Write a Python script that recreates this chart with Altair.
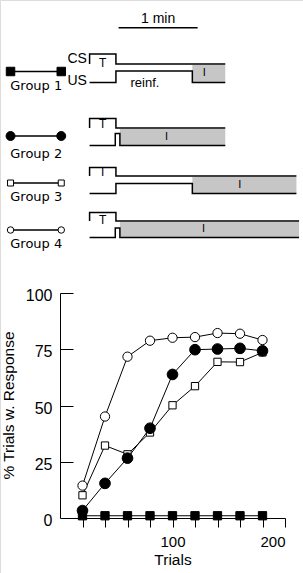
import altair as alt
import pandas as pd

# ---------------- learning-curve data ----------------
trials = [20, 40, 60, 80, 100, 120, 140, 160, 180]
group1 = [1, 1, 1, 1, 1, 1, 1, 1, 1]
group2 = [3.3, 15.4, 26.6, 39.9, 63.8, 74.8, 75.1, 75.4, 74.3]
group3 = [10.1, 32.2, 28.3, 38.0, 50.1, 58.6, 69.4, 69.3, 73.6]
group4 = [14.4, 45.1, 71.7, 78.8, 80.1, 80.4, 82.2, 81.9, 79.1]

group_names = ["Group 1", "Group 2", "Group 3", "Group 4"]
group_shapes = ["square", "circle", "square", "circle"]
group_fills = ["black", "black", "white", "white"]
group_sizes = [69, 114, 53, 86]          # plot markers
legend_sizes = [72, 80, 36, 42]          # legend markers

x_ticks = [20, 40, 60, 80, 100, 120, 140, 160, 180, 200]
y_ticks = [0, 25, 50, 75, 100]
y_inner_ticks = [25, 50, 75, 100]

# ---------------- procedure schematic (time in seconds) ----------------
cs_on, cs_off = 0, 20
spike_on, spike_off = 19.5, 23
trace_delay = [True, False, True, False]   # reinforcement delayed after CS
ext_start = [78, 23, 78, 23]               # start of the grey (I) period
row_end = [103, 103, 157, 159]
scale_bar = [22, 82]                       # 1 min
# vertical levels of each group row (diagram units, downward)
cs_high = [54, 118.5, 167.5, 212.5]
cs_low = [64, 128, 176, 221]
us_high = [71, 133.5, 183.5, 228]
us_low = [82.5, 145.5, 193.5, 237.5]
t_label_y = [62.5, 124, 172, 219.5]
i_label_t = [87, 58.5, 114, 86.5]
i_label_y = [73, 137, 184.5, 229]
legend_t = [-60, -21.5]
legend_y = [71.5, 136, 183, 230]
legend_label_t = -40.5
legend_label_y = [86, 153.5, 196.5, 243.5]

# ---------------- build tables ----------------
series = [group1, group2, group3, group4]
data_rows = []
for gi in [3, 2, 1, 0]:
    for t, v in zip(trials, series[gi]):
        data_rows.append(dict(group=group_names[gi], trial=t, value=v,
                              shape=group_shapes[gi], fill=group_fills[gi],
                              size=group_sizes[gi]))
df_data = pd.DataFrame(data_rows)

path_rows = []
rect_rows = []
for i in range(4):
    end = row_end[i]
    cs = [(cs_on, cs_low[i]), (cs_on, cs_high[i]), (cs_off, cs_high[i]),
          (cs_off, cs_low[i]), (end, cs_low[i])]
    if trace_delay[i]:
        us = [(cs_on, us_low[i]), (cs_off, us_low[i]), (cs_off, us_high[i]),
              (ext_start[i], us_high[i]), (ext_start[i], us_low[i]), (end, us_low[i])]
    else:
        us = [(cs_on, us_low[i]), (spike_on, us_low[i]), (spike_on, us_high[i]),
              (spike_off, us_high[i]), (spike_off, us_low[i]), (end, us_low[i])]
    for k, (t, y) in enumerate(cs):
        path_rows.append(dict(path=f"cs{i}", order=k, t=t, y=y))
    for k, (t, y) in enumerate(us):
        path_rows.append(dict(path=f"us{i}", order=k, t=t, y=y))
    rect_rows.append(dict(t=ext_start[i], t2=end, y=cs_low[i] + 1, y2=us_low[i]))
    for k, t in enumerate(legend_t):
        path_rows.append(dict(path=f"leg{i}", order=k, t=t, y=legend_y[i]))
df_path = pd.DataFrame(path_rows)
df_rect = pd.DataFrame(rect_rows)

df_legpts = pd.DataFrame([dict(t=t, y=legend_y[i], shape=group_shapes[i],
                               fill=group_fills[i], size=legend_sizes[i])
                          for i in range(4) for t in legend_t])
df_leglab = pd.DataFrame(dict(t=[legend_label_t] * 4, y=legend_label_y, label=group_names))
df_T = pd.DataFrame(dict(t=[(cs_on + cs_off) / 2] * 4, y=t_label_y, label=["T"] * 4))
df_I = pd.DataFrame(dict(t=i_label_t, y=i_label_y, label=["I"] * 4))
df_misc = pd.DataFrame(dict(t=[(scale_bar[0] + scale_bar[1]) / 2, -2, -2],
                            y=[18.8, 58.5, 80.5], label=["1 min", "CS", "US"],
                            align=["center", "right", "right"]))
df_reinf = pd.DataFrame(dict(t=[42], y=[83.3], label=["reinf."]))
df_bar = pd.DataFrame(dict(t=[scale_bar[0]], t2=[scale_bar[1]], y=[27.7]))

# ---------------- schematic layers ----------------
sx = alt.Scale(domain=[-68, 162])
sy = alt.Scale(domain=[0, 573], reverse=True)
X = alt.X("t:Q", scale=sx, axis=None)
Y = alt.Y("y:Q", scale=sy, axis=None)

rects = alt.Chart(df_rect).mark_rect(color="#c6c6c6").encode(
    x=X, x2="t2:Q", y=Y, y2="y2:Q")
paths = alt.Chart(df_path).mark_line(color="black", strokeWidth=1.5,
                                     strokeJoin="miter").encode(
    x=X, y=Y, detail="path:N", order="order:Q")
bar = alt.Chart(df_bar).mark_rule(color="black", strokeWidth=1.5).encode(
    x=X, x2="t2:Q", y=Y)
legpts = alt.Chart(df_legpts).mark_point(filled=True, stroke="black",
                                         strokeWidth=1, opacity=1).encode(
    x=X, y=Y,
    shape=alt.Shape("shape:N", scale=None),
    fill=alt.Fill("fill:N", scale=None),
    size=alt.Size("size:Q", scale=None))
leglab = alt.Chart(df_leglab).mark_text(font="DejaVu Sans", fontSize=13,
                                        baseline="middle", color="black").encode(
    x=X, y=Y, text="label:N")
tlab = alt.Chart(df_T).mark_text(font="Liberation Sans", fontSize=12,
                                 baseline="middle", color="black").encode(
    x=X, y=Y, text="label:N")
ilab = alt.Chart(df_I).mark_text(font="Liberation Sans", fontSize=11,
                                 baseline="middle", color="black").encode(
    x=X, y=Y, text="label:N")
misc_c = alt.Chart(df_misc[df_misc["align"] == "center"]).mark_text(
    font="Liberation Sans", fontSize=14, baseline="middle", align="center",
    color="black").encode(x=X, y=Y, text="label:N")
misc_r = alt.Chart(df_misc[df_misc["align"] == "right"]).mark_text(
    font="Liberation Sans", fontSize=14, baseline="middle", align="right",
    color="black").encode(x=X, y=Y, text="label:N")
reinf = alt.Chart(df_reinf).mark_text(font="Liberation Sans", fontSize=13,
                                      baseline="middle", color="black").encode(
    x=X, y=Y, text="label:N")

schematic = alt.layer(rects, paths, bar, legpts, leglab, tlab, ilab,
                      misc_c, misc_r, reinf)

# ---------------- data plot layers ----------------
dx = alt.Scale(domain=[0, 200], range=[60, 285])
dy = alt.Scale(domain=[0, 100], range=[518, 293])
x_axis = alt.Axis(orient="bottom", offset=-55, values=x_ticks, grid=False,
                  tickSize=9, tickColor="black", domainColor="black",
                  labelPadding=7, labelFont="Liberation Sans", labelFontSize=15,
                  labelColor="black",
                  labelExpr="(datum.value == 100 || datum.value == 200) ? datum.label : ''",
                  title="Trials", titleFont="Liberation Sans", titleFontSize=15.5,
                  titleFontWeight="normal", titleColor="black",
                  titleBaseline="alphabetic", titleY=46.5)
y_axis = alt.Axis(orient="left", offset=-60, values=y_ticks, grid=False,
                  ticks=False, tickSize=0, domainColor="black",
                  labelPadding=8, labelOffset=2.5, labelFont="Liberation Sans",
                  labelFontSize=16, labelColor="black",
                  title="% Trials w. Response", titleFont="Liberation Sans",
                  titleFontSize=15.5, titleFontWeight="normal", titleColor="black",
                  titleBaseline="alphabetic", titleX=-47, titleY=405)
y_inner = alt.Axis(orient="right", offset=-243, values=y_inner_ticks, grid=False,
                   ticks=True, tickSize=13, tickColor="black", labels=False,
                   domain=False, title=None)

DX = alt.X("trial:Q", scale=dx, axis=x_axis)
lines = alt.Chart(df_data).mark_line(color="black", strokeWidth=1).encode(
    x=DX, y=alt.Y("value:Q", scale=dy, axis=y_axis),
    detail="group:N", order="trial:Q")
points = alt.Chart(df_data).mark_point(filled=True, stroke="black",
                                       strokeWidth=1, opacity=1).encode(
    x=DX, y=alt.Y("value:Q", scale=dy, axis=y_axis),
    shape=alt.Shape("shape:N", scale=None),
    fill=alt.Fill("fill:N", scale=None),
    size=alt.Size("size:Q", scale=None))
inner_ticks = alt.Chart(df_data).mark_point(opacity=0).encode(
    x=DX, y=alt.Y("value:Q", scale=dy, axis=y_inner))

plot = alt.layer(alt.layer(lines, points), inner_ticks).resolve_axis(y="independent")

chart = alt.layer(schematic, plot).resolve_scale(
    x="independent", y="independent"
).properties(
    width=303, height=573, autosize="none", padding=0
).configure_view(stroke=None).configure(background="white")

chart.save("out.html", embed_options={"renderer": "svg", "actions": False})
